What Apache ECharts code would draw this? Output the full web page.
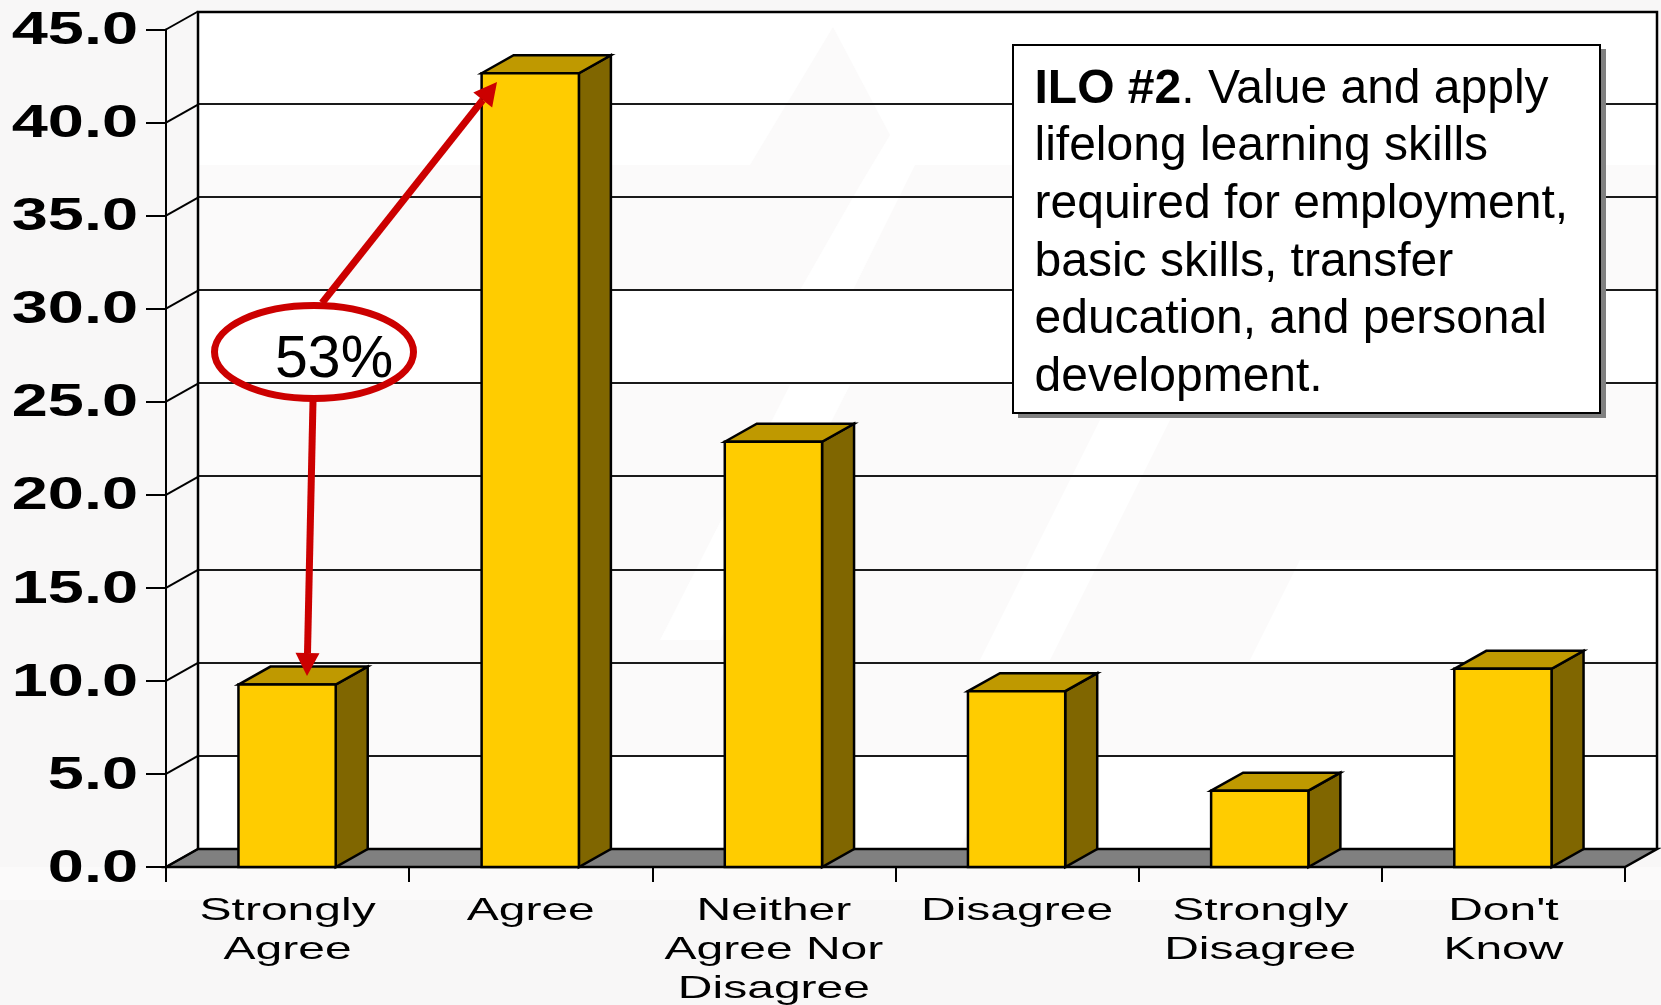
<!DOCTYPE html>
<html><head><meta charset="utf-8">
<style>html,body{margin:0;padding:0;background:#f8f7f7}#c{width:1661px;height:1005px}</style>
<script src="https://cdn.jsdelivr.net/npm/echarts@6/dist/echarts.min.js"></script>
</head><body><div id="c"></div>
<script>
const categories = ['Strongly\nAgree','Agree','Neither\nAgree Nor\nDisagree','Disagree','Strongly\nDisagree',"Don't\nKnow"];
const values = [9.8, 42.65, 22.85, 9.45, 4.1, 10.65];
const yTicks = [0,5,10,15,20,25,30,35,40,45];
const calloutText = '53%';
const boxLines = ['{b|ILO #2}. Value and apply','lifelong learning skills','required for employment,','basic skills, transfer','education, and personal','development.'];

const DX = 32, DY = 18;
const FRONT = {left:166, right:36, top:29.5, bottom:138};
const BACK = {left:198, right:4, top:10.3, bottom:156};
const FONT = '"Liberation Sans", Arial, sans-serif';
const PALE = '#fbfafa', WHITE = '#ffffff';

function arrow(x1,y1,x2,y2){
  const a = Math.atan2(y2-y1,x2-x1), L=23, W=12;
  const bx = x2-L*Math.cos(a), by = y2-L*Math.sin(a), nx=-Math.sin(a), ny=Math.cos(a);
  return [
    {type:'line',silent:true,z:20,shape:{x1,y1,x2:bx,y2:by},style:{stroke:'#cc0000',lineWidth:7}},
    {type:'polygon',silent:true,z:20,shape:{points:[[x2,y2],[bx+nx*W,by+ny*W],[bx-nx*W,by-ny*W]]},style:{fill:'#cc0000'}}
  ];
}

const bgPatches = [
  {pts:[[198,12],[1657,12],[1657,849],[198,849]],fill:WHITE},
  {pts:[[0,867],[1661,867],[1661,900],[0,900]],fill:'#fbfafa'},
  {pts:[[833,27],[890,135],[860,185],[800,290],[612,290],[612,165],[750,165]],fill:PALE},
  {pts:[[198,165],[620,165],[620,290],[198,290]],fill:PALE},
  {pts:[[915,165],[1657,165],[1657,290],[853,290]],fill:PALE},
  {pts:[[198,385],[1657,385],[1657,755],[198,755]],fill:PALE},
  {pts:[[790,385],[850,385],[720,640],[660,640]],fill:WHITE},
  {pts:[[1100,420],[1170,420],[1050,660],[980,660]],fill:WHITE},
  {pts:[[1300,560],[1657,560],[1657,660],[1250,660]],fill:WHITE},
  {pts:[[370,755],[480,755],[480,849],[370,849]],fill:PALE},
  {pts:[[1000,755],[1100,755],[1050,849],[960,849]],fill:PALE}
];

const option = {
  backgroundColor:'#f8f7f7',
  animation:false,
  grid:[
    Object.assign({show:false},FRONT),
    Object.assign({show:false},BACK)
  ],
  xAxis:[
    {type:'category',gridIndex:0,data:categories,boundaryGap:true,
     axisLine:{show:true,onZero:false,lineStyle:{color:'#000',width:2}},
     axisTick:{show:true,length:15,lineStyle:{color:'#000',width:2}},axisLabel:{show:false},splitLine:{show:false}},
    {type:'category',gridIndex:1,data:categories,axisLine:{show:false},axisTick:{show:false},axisLabel:{show:false},splitLine:{show:false}}
  ],
  yAxis:[
    {type:'value',gridIndex:0,min:0,max:45,interval:5,
     axisLine:{show:true,lineStyle:{color:'#000',width:2}},
     axisTick:{show:true,length:20,lineStyle:{color:'#000',width:2}},axisLabel:{show:false},splitLine:{show:false}},
    {type:'value',gridIndex:1,min:0,max:45,interval:5,
     axisLine:{show:false},axisTick:{show:false},axisLabel:{show:false},
     splitLine:{show:true,showMaxLine:false,lineStyle:{color:'#1a1a1a',width:2}}}
  ],
  graphic:{elements:[
    ...bgPatches.map(p=>({type:'polygon',silent:true,z:-10,shape:{points:p.pts},style:{fill:p.fill}})),
    {type:'polyline',silent:true,z:1,shape:{points:[[198,849],[198,12],[1657,12],[1657,849]]},style:{stroke:'#000',lineWidth:2.5,fill:'none'}},
    {type:'rect',silent:true,z:30,shape:{x:1018,y:49,width:588,height:369},style:{fill:'#808080'}},
    {type:'rect',silent:true,z:31,shape:{x:1013,y:45,width:587,height:368},style:{fill:'#fff',stroke:'#000',lineWidth:2}},
    ...boxLines.map((t,i)=>({type:'text',silent:true,z:32,x:1034.5,y:113.5+57.6*i,
      style:{text:t,fontFamily:FONT,fontSize:48,fill:'#000',align:'left',verticalAlign:'bottom',
        rich:{b:{fontFamily:FONT,fontSize:48,fontWeight:'bold',fill:'#000'}}}})),
    {type:'ellipse',silent:true,z:20,shape:{cx:314,cy:352,rx:99.5,ry:46.5},style:{fill:'none',stroke:'#cc0000',lineWidth:7}},
    {type:'text',silent:true,z:21,x:275,y:390,style:{text:calloutText,fontFamily:FONT,fontSize:59,fill:'#000',align:'left',verticalAlign:'bottom'}},
    ...arrow(322,303,497,82),
    ...arrow(313,401,307,676)
  ]},
  series:[
    {type:'custom',name:'floor',coordinateSystem:'cartesian2d',xAxisIndex:0,yAxisIndex:0,z:1,silent:true,
     data:[[0]],encode:{x:0},
     renderItem(p,api){
       const c=p.coordSys, b=c.y+c.height, l=c.x, r=c.x+c.width;
       return {type:'polygon',shape:{points:[[l,b],[l+DX,b-DY],[r+DX,b-DY],[r,b]]},style:{fill:'#808080',stroke:'#000',lineWidth:2.5}};
     }},
    {type:'custom',name:'sideTicks',coordinateSystem:'cartesian2d',xAxisIndex:0,yAxisIndex:0,z:1,silent:true,
     data:yTicks.map(v=>[0,v]),encode:{x:0,y:1},
     renderItem(p,api){
       const c=p.coordSys, y=api.coord([0,api.value(1)])[1];
       return {type:'line',shape:{x1:c.x,y1:y,x2:c.x+DX,y2:y-DY},style:{stroke:'#000',lineWidth:2}};
     }},
    {type:'custom',name:'Responses',coordinateSystem:'cartesian2d',xAxisIndex:0,yAxisIndex:0,z:3,silent:true,
     data:values.map((v,i)=>[i,v]),encode:{x:0,y:1},
     renderItem(p,api){
       const top=api.coord([api.value(0),api.value(1)]), base=api.coord([api.value(0),0]);
       const w=api.size([1,0])[0]*0.4, l=top[0]-w/2-0.5, r=top[0]+w/2-0.5;
       const st=(f)=>({fill:f,stroke:'#000',lineWidth:2.5,lineJoin:'miter'});
       return {type:'group',children:[
         {type:'polygon',shape:{points:[[r,top[1]],[r+DX,top[1]-DY],[r+DX,base[1]-DY],[r,base[1]]]},style:st('#806600')},
         {type:'polygon',shape:{points:[[l,top[1]],[l+DX,top[1]-DY],[r+DX,top[1]-DY],[r,top[1]]]},style:st('#bf9900')},
         {type:'rect',shape:{x:l,y:top[1],width:w,height:base[1]-top[1]},style:st('#ffcc00')}
       ]};
     }},
    {type:'custom',name:'yLabels',coordinateSystem:'cartesian2d',xAxisIndex:0,yAxisIndex:0,z:5,silent:true,
     data:yTicks.map(v=>[0,v]),encode:{x:0,y:1},
     renderItem(p,api){
       const v=api.value(1), y=api.coord([0,v])[1];
       return {type:'text',x:138,y:y+2,scaleX:1.41,style:{text:v.toFixed(1),fontFamily:FONT,fontWeight:'bold',fontSize:46,fill:'#000',align:'right',verticalAlign:'middle'}};
     }},
    {type:'custom',name:'xLabels',coordinateSystem:'cartesian2d',xAxisIndex:0,yAxisIndex:0,z:5,silent:true,
     data:categories.map((c,i)=>[i,0]),encode:{x:0,y:1},
     renderItem(p,api){
       const i=api.value(0), x=api.coord([i,0])[0];
       return {type:'text',x:x,y:892,scaleX:1.5,style:{text:categories[i],fontFamily:FONT,fontSize:32,lineHeight:39,fill:'#000',align:'center',verticalAlign:'top'}};
     }}
  ]
};
echarts.init(document.getElementById('c')).setOption(option);
</script></body></html>
